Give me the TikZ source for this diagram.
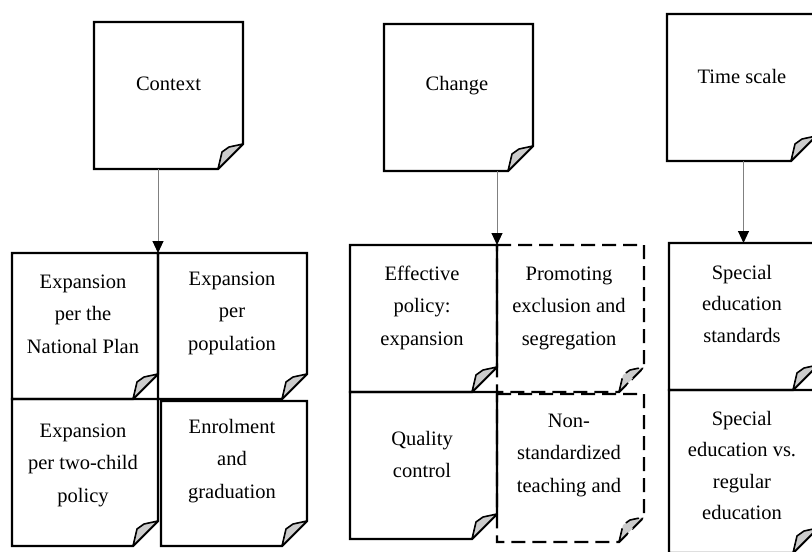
\documentclass[tikz,border=0pt]{standalone}
\usepackage{fontspec}
\setmainfont{Liberation Serif}
\usetikzlibrary{arrows.meta}
\tikzset{
  boxarea/.style={draw=none, inner sep=0pt, outer sep=0pt, rectangle},
  boxline/.style={draw=black, line width=2.2pt, line join=miter},
  foldline/.style={draw=black, fill=gray!40, line width=1.6pt, line join=round},
  dashedbox/.style={dash pattern=on 14pt off 7pt},
  txt/.style={anchor=base, inner sep=0pt, font=\fontsize{20.5}{32.5}\selectfont},
  txtts/.style={anchor=base, inner sep=0pt, font=\fontsize{20.5}{31.5}\selectfont},
  conn/.style={draw=gray, line width=1pt, -{Triangle[length=12pt,width=11pt,color=black]}},
}
\newcommand\notebox[6][]{%
  \node[boxarea, minimum width={(#5-#3)*1pt}, minimum height={(#6-#4)*1pt}] (#2) at ({(#3+#5)/2},{(#4+#6)/2}) {};
  \draw[boxline,#1] (#2.north west) -- (#2.north east) -- ([yshift=25pt]#2.south east) -- ([xshift=-25pt]#2.south east) -- (#2.south west) -- cycle;
  \filldraw[foldline,#1] ([xshift=-25pt]#2.south east) -- ++(4,-17) -- ++(7,-5) -- ([yshift=25pt]#2.south east) -- cycle;
}
\newcommand\mlines[1]{\begin{tabular}[t]{@{}c@{}}#1\end{tabular}}
\begin{document}
\begin{tikzpicture}[x=1pt,y=-1pt]
\useasboundingbox (0,0) rectangle (812,552);
\fill[white] (0,0) rectangle (812,552);
% top row
\notebox{ctx}{94}{22}{243}{169}
\notebox{chg}{384}{24}{533}{171}
\notebox{tsc}{667}{14}{816}{161}
% context group
\notebox{tl}{12}{253}{158}{399}
\notebox{tr}{158}{253}{307}{399}
\notebox{bl}{12}{399}{158}{546}
\notebox{br}{161}{401}{307}{546}
% change group
\notebox[dashedbox]{mr1}{497}{245}{644}{392}
\notebox[dashedbox]{mr2}{497}{394}{644}{542}
\notebox{ml1}{350}{245}{497}{392}
\notebox{ml2}{350}{392}{497}{539}
% time scale group
\notebox{ts1}{669}{243}{818}{390}
\notebox{ts2}{669}{390}{818}{553}
% texts
\node[txt] (ctxT) at (168.5,90) {\mlines{Context}};
\node[txt] (chgT) at (457,90) {\mlines{Change}};
\node[txt] (tscT) at (742,83) {\mlines{Time scale}};
\node[txt] (tlT) at (83,288) {\mlines{Expansion\\per the\\National Plan}};
\node[txt] (trT) at (232,285) {\mlines{Expansion\\per\\population}};
\node[txt] (blT) at (83,437) {\mlines{Expansion\\per two-child\\policy}};
\node[txt] (brT) at (232,433) {\mlines{Enrolment\\and\\graduation}};
\node[txt] (ml1T) at (422,280) {\mlines{Effective\\policy:\\expansion}};
\node[txt] (mr1T) at (569,280) {\mlines{Promoting\\exclusion and\\segregation}};
\node[txt] (ml2T) at (422,445) {\mlines{Quality\\control}};
\node[txt] (mr2T) at (569,427) {\mlines{Non-\\standardized\\teaching and}};
\node[txtts] (ts1T) at (742,279) {\mlines{Special\\education\\standards}};
\node[txtts] (ts2T) at (742,425) {\mlines{Special\\education vs.\\regular\\education}};
% connectors
\draw[conn] (ctx.south -| tl.north east) -- (tl.north east);
\draw[conn] (chg.south -| ml1.north east) -- (ml1.north east);
\draw[conn] (tsc.south -| ts1.north) -- (ts1.north);
\end{tikzpicture}
\end{document}
